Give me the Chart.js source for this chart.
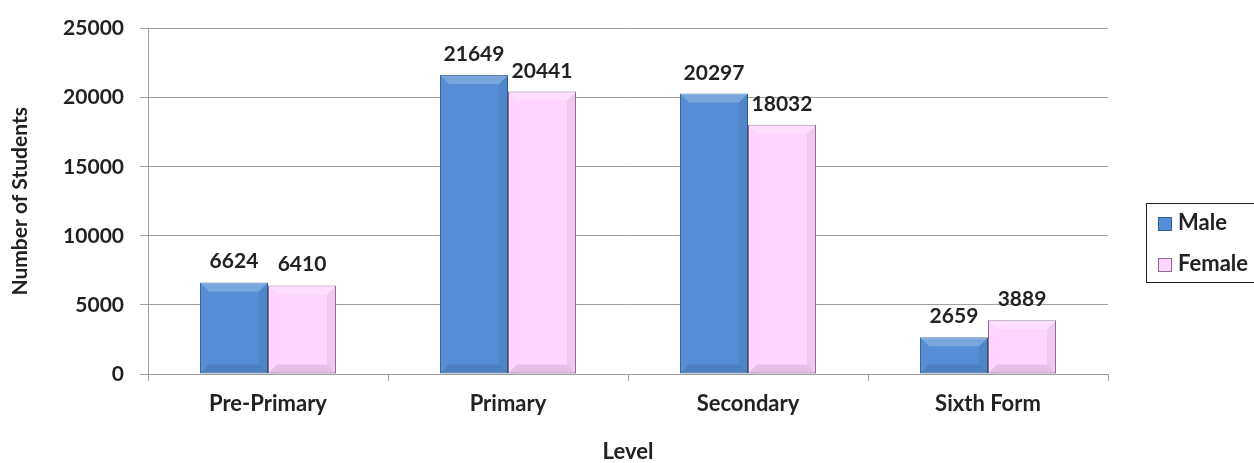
<!DOCTYPE html>
<html>
  <head>
    <meta charset="utf-8">
    <title>Number of Students by Level</title>
    <script src="https://cdn.jsdelivr.net/npm/chart.js@4.4.1/dist/chart.umd.min.js"></script>
    <style>
      html, body { margin: 0; padding: 0; background: #fff; }
      #wrap { width: 1254px; height: 463px; }
    </style>
  </head>
  <body>
    <div id="wrap"><canvas id="chart" width="1254" height="463"></canvas></div>

    <script type="text/javascript">
    var levels = ["Pre-Primary", "Primary", "Secondary", "Sixth Form"]
    var male = [6624, 21649, 20297, 2659]
    var female = [6410, 20441, 18032, 3889]
    var yTicks = [0, 5000, 10000, 15000, 20000, 25000]

    var colors = { male: "#558ED5", maleEdge: "#2F5F94", female: "#FFD5FF", femaleEdge: "#8C6E8C" }
    var font = "Lato, 'Liberation Sans', sans-serif"

    // value above each bar
    var barLabels = {
      id: 'barLabels',
      afterDatasetsDraw: function(chart) {
        var ctx = chart.ctx
        ctx.save()
        ctx.font = "bold 21px " + font
        ctx.fillStyle = "#222"
        ctx.textAlign = "center"
        ctx.textBaseline = "alphabetic"
        chart.data.datasets.forEach(function(ds, i) {
          chart.getDatasetMeta(i).data.forEach(function(bar, j) {
            ctx.fillText(String(ds.data[j]), bar.x, bar.y - 14)
          })
        })
        ctx.restore()
      }
    }

    // simple bevel on the bars
    var bevel = {
      id: 'bevel',
      afterDatasetsDraw: function(chart) {
        var ctx = chart.ctx
        ctx.save()
        chart.data.datasets.forEach(function(ds, i) {
          chart.getDatasetMeta(i).data.forEach(function(bar) {
            var w = bar.width, l = bar.x - w / 2, r = bar.x + w / 2, t = bar.y, b = bar.base
            var d = Math.min(9, (b - t) / 2)
            ctx.fillStyle = "rgba(255,255,255,0.22)"
            ctx.beginPath()
            ctx.moveTo(l, t); ctx.lineTo(r, t); ctx.lineTo(r - d, t + d); ctx.lineTo(l + d, t + d); ctx.closePath()
            ctx.fill()
            ctx.fillStyle = "rgba(0,0,0,0.10)"
            ctx.beginPath()
            ctx.moveTo(l, b); ctx.lineTo(r, b); ctx.lineTo(r - d, b - d); ctx.lineTo(l + d, b - d); ctx.closePath()
            ctx.fill()
            ctx.fillStyle = "rgba(0,0,0,0.06)"
            ctx.beginPath()
            ctx.moveTo(r, t); ctx.lineTo(r, b); ctx.lineTo(r - d, b - d); ctx.lineTo(r - d, t + d); ctx.closePath()
            ctx.fill()
          })
        })
        ctx.restore()
      }
    }

    // boxed legend on the right
    var boxLegend = {
      id: 'boxLegend',
      afterDraw: function(chart) {
        var ctx = chart.ctx
        ctx.save()
        ctx.strokeStyle = "#222"
        ctx.lineWidth = 1
        ctx.strokeRect(1146.5, 203.5, 112, 79)
        ctx.font = "bold 22px " + font
        ctx.textBaseline = "alphabetic"
        ctx.textAlign = "left"
        var ys = [231, 272]
        chart.data.datasets.forEach(function(ds, i) {
          ctx.fillStyle = ds.backgroundColor
          ctx.fillRect(1158, ys[i] - 14, 14, 14)
          ctx.strokeStyle = ds.borderColor
          ctx.strokeRect(1158.5, ys[i] - 13.5, 13, 13)
          ctx.fillStyle = "#222"
          ctx.fillText(ds.label, 1178, ys[i] - 1)
        })
        ctx.restore()
      }
    }

    var chart = new Chart(document.getElementById("chart"), {
      type: 'bar',
      data: {
        labels: levels,
        datasets: [
          {
            label: "Male",
            data: male,
            backgroundColor: colors.male,
            borderColor: colors.maleEdge,
            borderWidth: 1,
            borderSkipped: false,
            categoryPercentage: 0.567,
            barPercentage: 1.0
          },
          {
            label: "Female",
            data: female,
            backgroundColor: colors.female,
            borderColor: colors.femaleEdge,
            borderWidth: 1,
            borderSkipped: false,
            categoryPercentage: 0.567,
            barPercentage: 1.0
          }
        ]
      },
      options: {
        responsive: false,
        animation: false,
        layout: { padding: { top: 27, right: 146, bottom: 0, left: 0 } },
        plugins: {
          legend: { display: false },
          tooltip: { enabled: false }
        },
        scales: {
          x: {
            grid: { drawOnChartArea: false, drawTicks: true, tickLength: 7, color: "#a0a0a0" },
            border: { color: "#a0a0a0" },
            ticks: { color: "#222", font: { family: font, size: 22, weight: "bold" }, padding: 10 },
            title: { display: true, text: "Level", color: "#222",
                     font: { family: font, size: 22, weight: "bold", lineHeight: 1 }, padding: { top: 0, bottom: 0 } },
            afterFit: function(scale) { scale.height = 89 }
          },
          y: {
            min: 0,
            max: 25000,
            afterBuildTicks: function(scale) {
              scale.ticks = yTicks.map(function(v) { return { value: v } })
            },
            grid: { color: "#a0a0a0", tickLength: 8 },
            border: { color: "#a0a0a0" },
            ticks: { color: "#222", font: { family: font, size: 21, weight: "bold" }, padding: 16,
                     callback: function(v) { return String(v) } },
            title: { display: true, text: "Number of Students", color: "#222",
                     font: { family: font, size: 21, weight: "bold" }, padding: { top: 8, bottom: 0 } },
            afterFit: function(scale) { scale.width = 148 }
          }
        }
      },
      plugins: [bevel, barLabels, boxLegend]
    });
    </script>
  </body>
</html>
